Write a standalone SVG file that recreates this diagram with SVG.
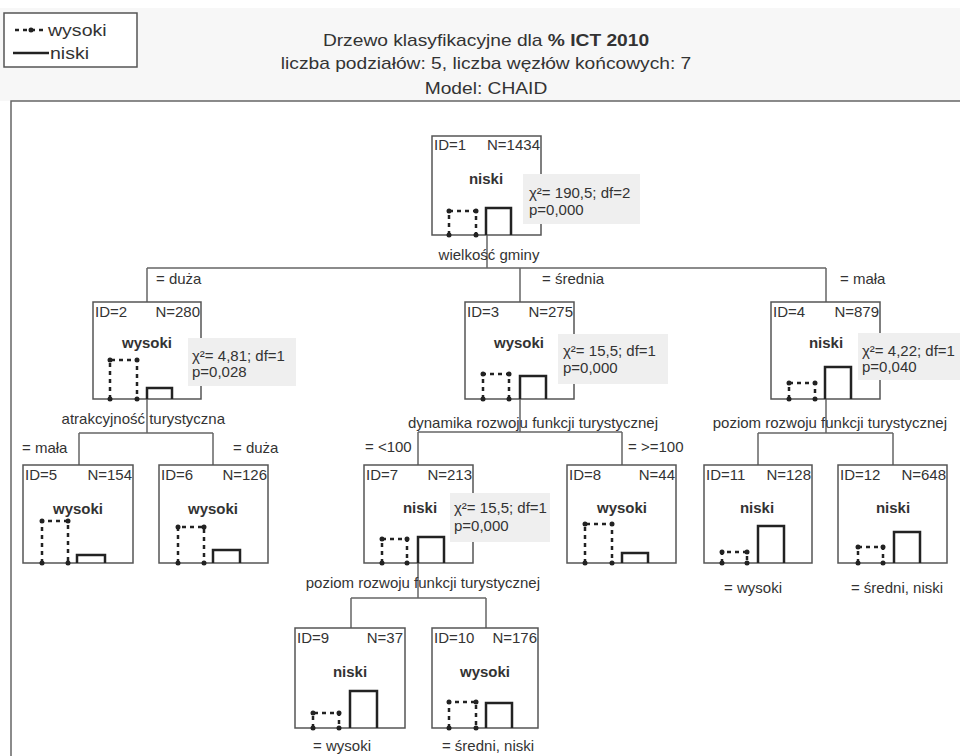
<svg xmlns="http://www.w3.org/2000/svg" width="960" height="756" viewBox="0 0 960 756">
<style>
.t{font-family:"Liberation Sans",Arial,sans-serif;font-size:15px;fill:#333}
.b{font-weight:bold}
.m{text-anchor:middle}
.e{text-anchor:end}
.box{fill:#fff;stroke:#555;stroke-width:1.5}
.stat{fill:#efefef}
.conn{fill:none;stroke:#666;stroke-width:1.5}
.solid{fill:none;stroke:#222;stroke-width:2.5}
.dash{fill:none;stroke:#222;stroke-width:2.5;stroke-dasharray:4 4}
.dot{fill:#222}
</style>
<rect x="0" y="0" width="960" height="756" fill="#fff"/>
<rect x="0" y="8" width="960" height="93" fill="#f7f7f7"/>
<rect x="11" y="101" width="960" height="680" fill="#fff" stroke="#666" stroke-width="1.5"/>

<g id="legend">
<rect x="4" y="13" width="133" height="54" fill="#fff" stroke="#555" stroke-width="1.5"/>
<line x1="15" y1="30" x2="45" y2="30" stroke="#222" stroke-width="2.5" stroke-dasharray="4 4"/>
<circle cx="31" cy="30" r="2.5" class="dot"/>
<text class="t" font-size="17" transform="translate(48,36) scale(1.15,1)" style="font-size:17px">wysoki</text>
<line x1="13" y1="53" x2="49" y2="53" stroke="#222" stroke-width="2.5"/>
<text class="t" transform="translate(50,59) scale(1.15,1)" style="font-size:17px">niski</text>
</g>

<g id="title">
<text class="t m" transform="translate(486,46) scale(1.2,1)" style="font-size:16px">Drzewo klasyfikacyjne dla <tspan class="b">% ICT 2010</tspan></text>
<text class="t m" transform="translate(486,69) scale(1.2,1)" style="font-size:16px">liczba podziałów: 5, liczba węzłów końcowych: 7</text>
<text class="t m" transform="translate(486,94) scale(1.2,1)" style="font-size:16px">Model: CHAID</text>
</g>

<g id="connectors">
<path class="conn" d="M487,235 V268 M147,268 H826 M147,268 V302 M520,268 V302 M826,268 V302"/>
<path class="conn" d="M147,399 V433 M79,433 H213 M79,433 V465 M213,433 V465"/>
<path class="conn" d="M520,399 V432 M418,432 H622 M418,432 V465 M622,432 V465"/>
<path class="conn" d="M826,399 V433 M758,433 H893 M758,433 V465 M893,433 V465"/>
<path class="conn" d="M418,563 V598 M351,598 H486 M351,598 V628 M486,598 V628"/>
<text class="t m" x="489" y="260">wielkość gminy</text>
<text class="t" x="156" y="284">= duża</text>
<text class="t" x="542" y="284">= średnia</text>
<text class="t" x="840" y="284">= mała</text>
<text class="t e" x="225" y="424">atrakcyjność turystyczna</text>
<text class="t" x="22" y="453">= mała</text>
<text class="t" x="233" y="453">= duża</text>
<text class="t e" x="658" y="428">dynamika rozwoju funkcji turystycznej</text>
<text class="t" x="365" y="452">= &lt;100</text>
<text class="t" x="628" y="452">= &gt;=100</text>
<text class="t e" x="947" y="428">poziom rozwoju funkcji turystycznej</text>
<text class="t e" x="540" y="588">poziom rozwoju funkcji turystycznej</text>
<text class="t m" x="753" y="593">= wysoki</text>
<text class="t m" x="897" y="593">= średni, niski</text>
<text class="t m" x="342" y="751">= wysoki</text>
<text class="t m" x="488" y="751">= średni, niski</text>
</g>

<g id="node1">
<rect class="box" x="432" y="136" width="109" height="99"/>
<text class="t" x="434" y="150">ID=1</text>
<text class="t e" x="540" y="150">N=1434</text>
<text class="t b m" x="486" y="184">niski</text>
<rect class="stat" x="523" y="174" width="117" height="50"/>
<text class="t" x="529" y="198">χ²= 190,5; df=2</text>
<text class="t" x="529" y="215">p=0,000</text>
<path class="dash" d="M449,235 V211 H476 V235"/>
<circle class="dot" cx="449" cy="211" r="2.5"/><circle class="dot" cx="476" cy="211" r="2.5"/><circle class="dot" cx="449" cy="235" r="2.5"/><circle class="dot" cx="476" cy="235" r="2.5"/>
<path class="solid" d="M486,235 V208 H511 V235"/>
</g>

<g id="node2">
<rect class="box" x="93" y="302" width="108" height="97"/>
<text class="t" x="95" y="317">ID=2</text>
<text class="t e" x="200" y="317">N=280</text>
<text class="t b m" x="147" y="348">wysoki</text>
<rect class="stat" x="188" y="338" width="108" height="48"/>
<text class="t" x="192" y="361">χ²= 4,81; df=1</text>
<text class="t" x="192" y="377">p=0,028</text>
<path class="dash" d="M110,399 V360 H137 V399"/>
<circle class="dot" cx="110" cy="360" r="2.5"/><circle class="dot" cx="137" cy="360" r="2.5"/><circle class="dot" cx="110" cy="399" r="2.5"/><circle class="dot" cx="137" cy="399" r="2.5"/>
<path class="solid" d="M147,399 V388 H172 V399"/>
</g>

<g id="node3">
<rect class="box" x="465" y="302" width="109" height="97"/>
<text class="t" x="467" y="317">ID=3</text>
<text class="t e" x="573" y="317">N=275</text>
<text class="t b m" x="519" y="348">wysoki</text>
<rect class="stat" x="558" y="334" width="110" height="50"/>
<text class="t" x="563" y="356">χ²= 15,5; df=1</text>
<text class="t" x="563" y="373">p=0,000</text>
<path class="dash" d="M483,399 V374 H509 V399"/>
<circle class="dot" cx="483" cy="374" r="2.5"/><circle class="dot" cx="509" cy="374" r="2.5"/><circle class="dot" cx="483" cy="399" r="2.5"/><circle class="dot" cx="509" cy="399" r="2.5"/>
<path class="solid" d="M520,399 V376 H546 V399"/>
</g>

<g id="node4">
<rect class="box" x="771" y="302" width="109" height="97"/>
<text class="t" x="773" y="317">ID=4</text>
<text class="t e" x="879" y="317">N=879</text>
<text class="t b m" x="826" y="348">niski</text>
<rect class="stat" x="858" y="333" width="102" height="47"/>
<text class="t" x="862" y="356">χ²= 4,22; df=1</text>
<text class="t" x="862" y="372">p=0,040</text>
<path class="dash" d="M789,399 V383 H815 V399"/>
<circle class="dot" cx="789" cy="383" r="2.5"/><circle class="dot" cx="815" cy="383" r="2.5"/><circle class="dot" cx="789" cy="399" r="2.5"/><circle class="dot" cx="815" cy="399" r="2.5"/>
<path class="solid" d="M825,399 V367 H851 V399"/>
</g>

<g id="node5">
<rect class="box" x="23" y="465" width="110" height="98"/>
<text class="t" x="25" y="480">ID=5</text>
<text class="t e" x="132" y="480">N=154</text>
<text class="t b m" x="78" y="514">wysoki</text>
<path class="dash" d="M42,563 V521 H68 V563"/>
<circle class="dot" cx="42" cy="521" r="2.5"/><circle class="dot" cx="68" cy="521" r="2.5"/><circle class="dot" cx="42" cy="563" r="2.5"/><circle class="dot" cx="68" cy="563" r="2.5"/>
<path class="solid" d="M77,563 V555 H105 V563"/>
</g>

<g id="node6">
<rect class="box" x="159" y="465" width="109" height="98"/>
<text class="t" x="161" y="480">ID=6</text>
<text class="t e" x="267" y="480">N=126</text>
<text class="t b m" x="213" y="514">wysoki</text>
<path class="dash" d="M178,563 V527 H204 V563"/>
<circle class="dot" cx="178" cy="527" r="2.5"/><circle class="dot" cx="204" cy="527" r="2.5"/><circle class="dot" cx="178" cy="563" r="2.5"/><circle class="dot" cx="204" cy="563" r="2.5"/>
<path class="solid" d="M213,563 V550 H240 V563"/>
</g>

<g id="node7">
<rect class="box" x="364" y="465" width="109" height="98"/>
<text class="t" x="366" y="480">ID=7</text>
<text class="t e" x="472" y="480">N=213</text>
<text class="t b m" x="420" y="513">niski</text>
<rect class="stat" x="450" y="493" width="100" height="49"/>
<text class="t" x="454" y="513">χ²= 15,5; df=1</text>
<text class="t" x="454" y="531">p=0,000</text>
<path class="dash" d="M382,563 V539 H407 V563"/>
<circle class="dot" cx="382" cy="539" r="2.5"/><circle class="dot" cx="407" cy="539" r="2.5"/><circle class="dot" cx="382" cy="563" r="2.5"/><circle class="dot" cx="407" cy="563" r="2.5"/>
<path class="solid" d="M418,563 V537 H444 V563"/>
</g>

<g id="node8">
<rect class="box" x="567" y="465" width="109" height="98"/>
<text class="t" x="569" y="480">ID=8</text>
<text class="t e" x="675" y="480">N=44</text>
<text class="t b m" x="622" y="513">wysoki</text>
<path class="dash" d="M585,563 V524 H612 V563"/>
<circle class="dot" cx="585" cy="524" r="2.5"/><circle class="dot" cx="612" cy="524" r="2.5"/><circle class="dot" cx="585" cy="563" r="2.5"/><circle class="dot" cx="612" cy="563" r="2.5"/>
<path class="solid" d="M622,563 V553 H648 V563"/>
</g>

<g id="node11">
<rect class="box" x="704" y="465" width="108" height="98"/>
<text class="t" x="706" y="480">ID=11</text>
<text class="t e" x="811" y="480">N=128</text>
<text class="t b m" x="757" y="513">niski</text>
<path class="dash" d="M722,563 V552 H747 V563"/>
<circle class="dot" cx="722" cy="552" r="2.5"/><circle class="dot" cx="747" cy="552" r="2.5"/><circle class="dot" cx="722" cy="563" r="2.5"/><circle class="dot" cx="747" cy="563" r="2.5"/>
<path class="solid" d="M758,563 V526 H784 V563"/>
</g>

<g id="node12">
<rect class="box" x="838" y="465" width="109" height="98"/>
<text class="t" x="840" y="480">ID=12</text>
<text class="t e" x="946" y="480">N=648</text>
<text class="t b m" x="893" y="513">niski</text>
<path class="dash" d="M858,563 V547 H883 V563"/>
<circle class="dot" cx="858" cy="547" r="2.5"/><circle class="dot" cx="883" cy="547" r="2.5"/><circle class="dot" cx="858" cy="563" r="2.5"/><circle class="dot" cx="883" cy="563" r="2.5"/>
<path class="solid" d="M894,563 V532 H920 V563"/>
</g>

<g id="node9">
<rect class="box" x="295" y="628" width="110" height="100"/>
<text class="t" x="297" y="643">ID=9</text>
<text class="t e" x="403" y="643">N=37</text>
<text class="t b m" x="350" y="677">niski</text>
<path class="dash" d="M313,728 V713 H339 V728"/>
<circle class="dot" cx="313" cy="713" r="2.5"/><circle class="dot" cx="339" cy="713" r="2.5"/><circle class="dot" cx="313" cy="728" r="2.5"/><circle class="dot" cx="339" cy="728" r="2.5"/>
<path class="solid" d="M350,728 V691 H377 V728"/>
</g>

<g id="node10">
<rect class="box" x="432" y="628" width="106" height="100"/>
<text class="t" x="434" y="643">ID=10</text>
<text class="t e" x="537" y="643">N=176</text>
<text class="t b m" x="485" y="677">wysoki</text>
<path class="dash" d="M449,728 V702 H476 V728"/>
<circle class="dot" cx="449" cy="702" r="2.5"/><circle class="dot" cx="476" cy="702" r="2.5"/><circle class="dot" cx="449" cy="728" r="2.5"/><circle class="dot" cx="476" cy="728" r="2.5"/>
<path class="solid" d="M486,728 V703 H512 V728"/>
</g>
</svg>
